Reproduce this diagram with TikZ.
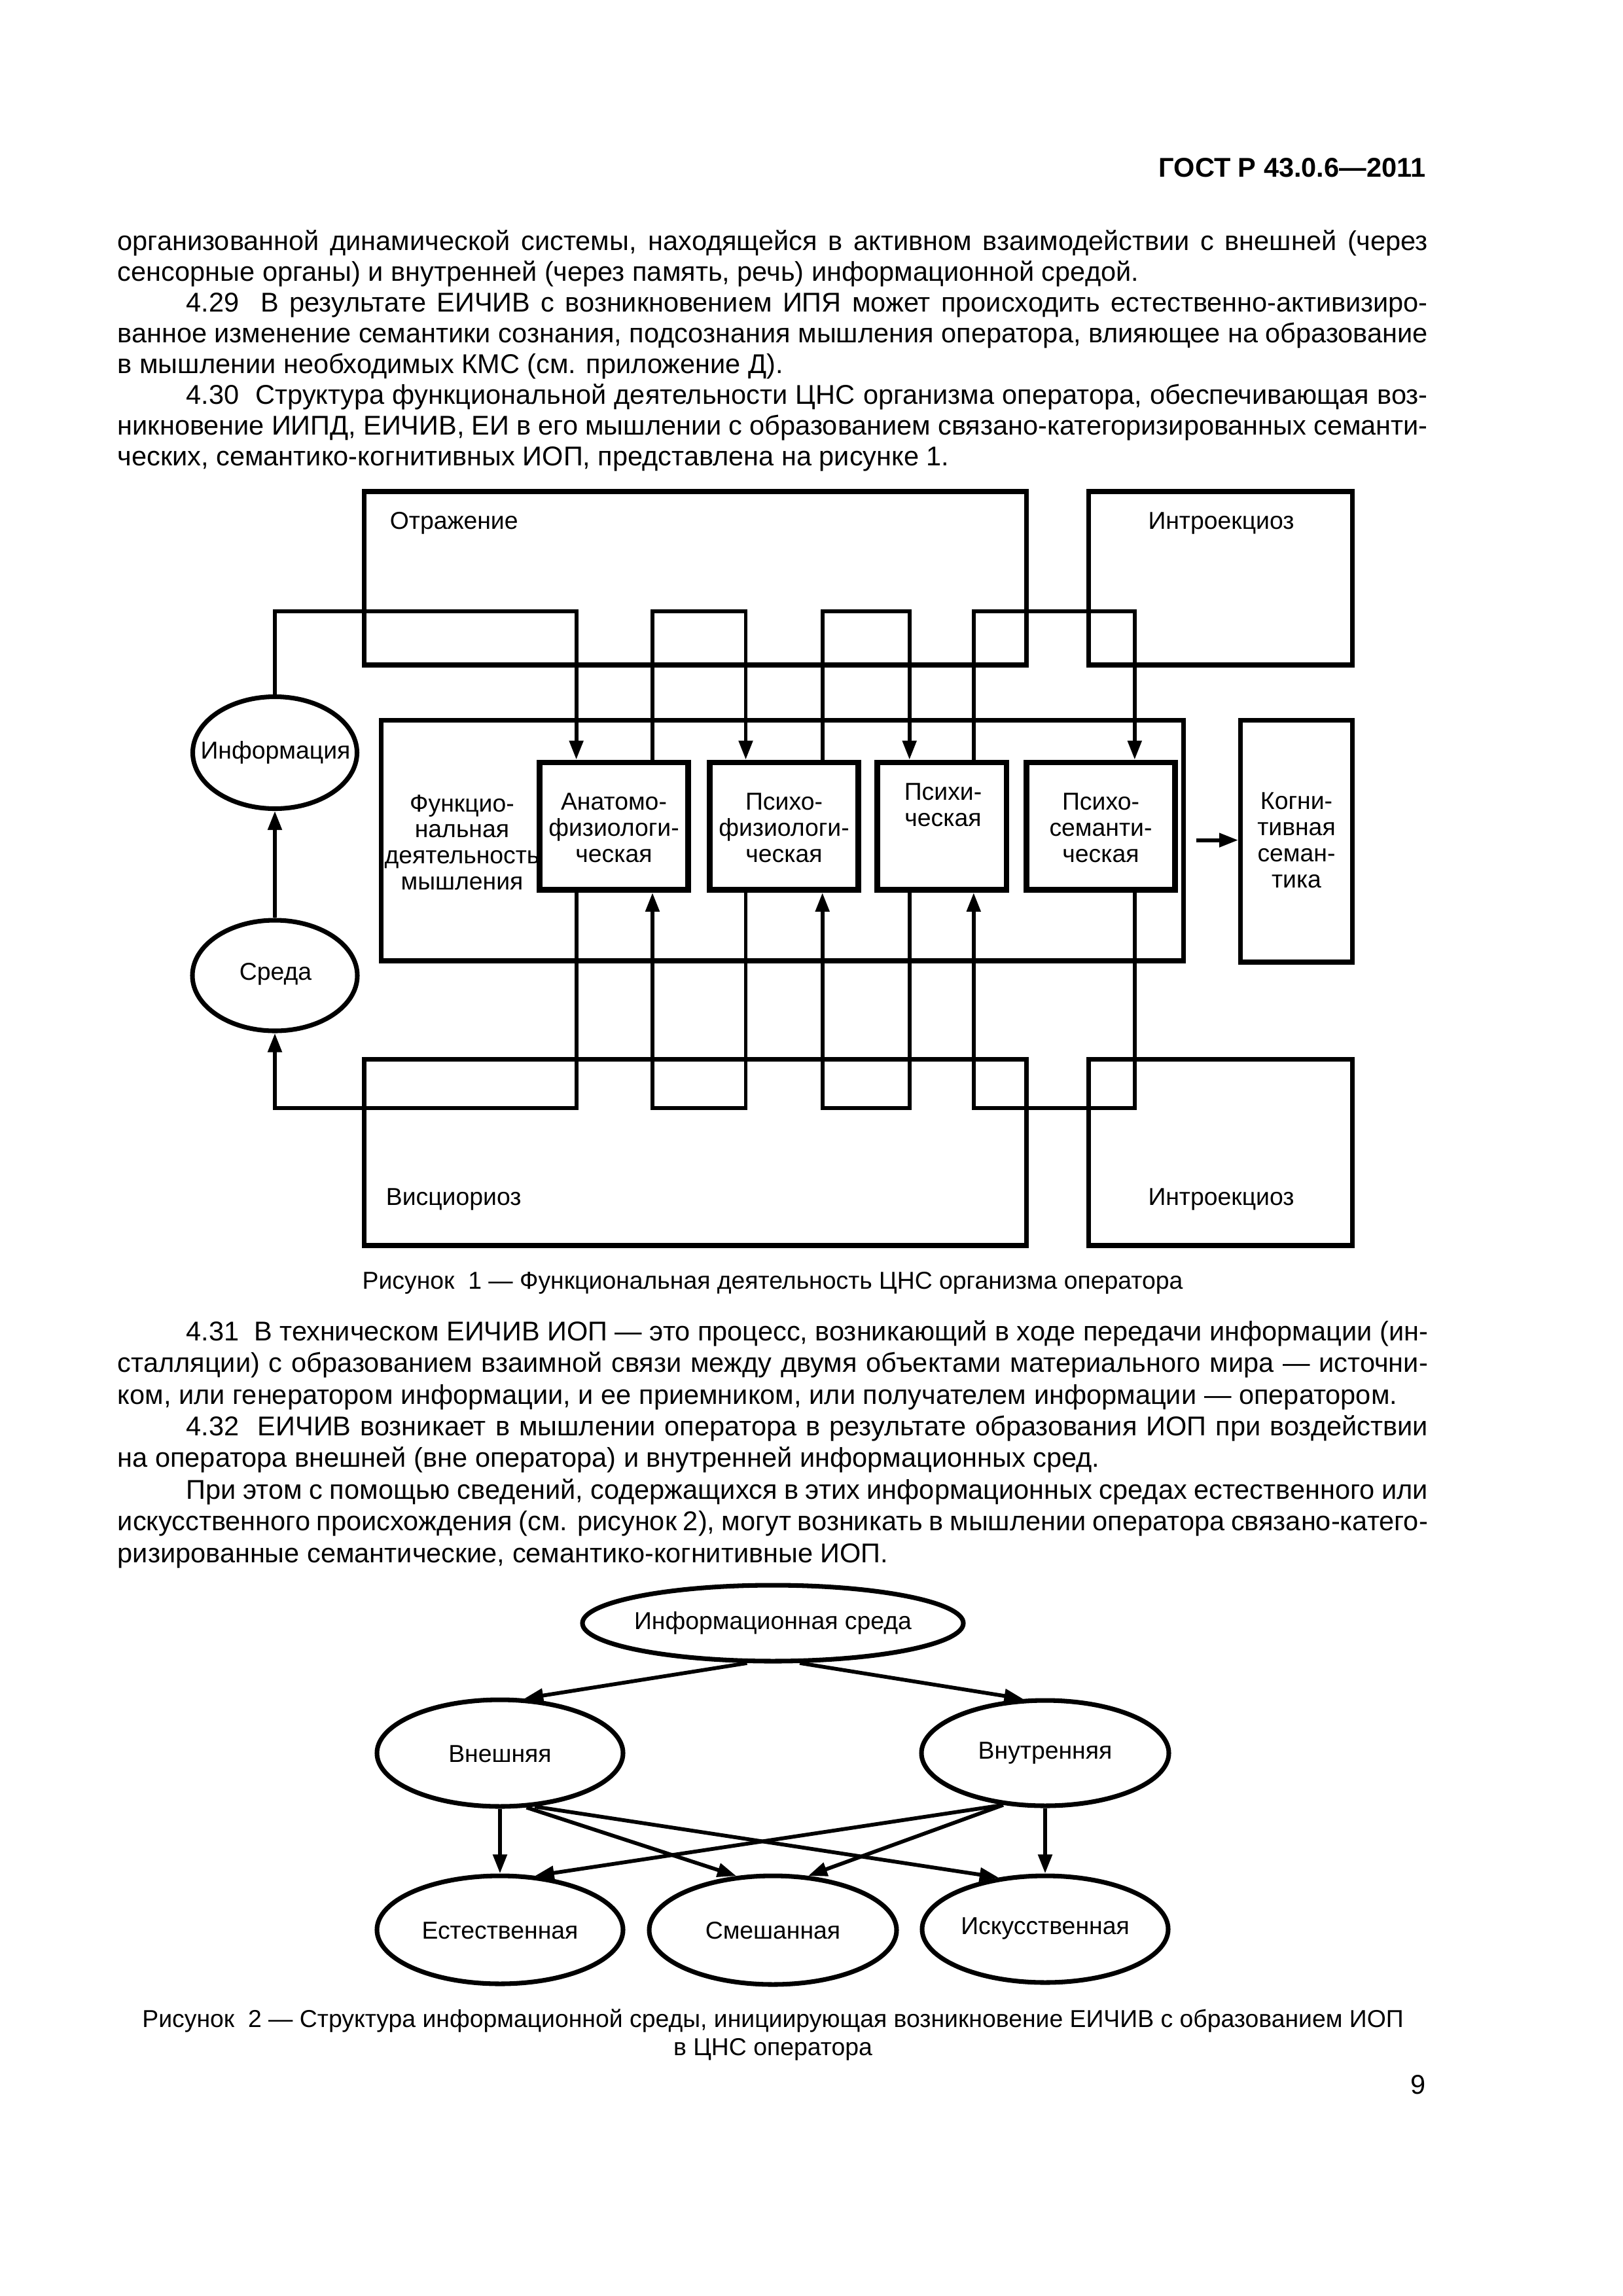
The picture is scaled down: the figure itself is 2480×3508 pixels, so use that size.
\documentclass[tikz,border=0pt]{standalone}
\usepackage{fontspec}
\setmainfont{Liberation Sans}
\usetikzlibrary{arrows.meta,shapes.geometric,fit,calc}
\newdimen\pxu \pxu=0.0846774mm
\begin{document}
\begin{tikzpicture}[x=0.0846774mm, y=-0.0846774mm,
  outerbox/.style={draw, line width=1.7pt, inner sep=0pt},
  innerbox/.style={draw, line width=2.1pt, inner sep=0pt},
  oval/.style={draw, ellipse, line width=1.7pt, inner sep=0pt},
  conn/.style={line width=1.4pt, line join=miter},
  arr/.style={conn, -{Triangle[length=7pt,width=5pt]}},
  lbl/.style={font=\fontsize{9}{9.6}\selectfont, align=center, inner sep=0pt},
  body/.style={font=\fontsize{10}{12}\selectfont, inner sep=0pt, anchor=base west},
  captext/.style={font=\fontsize{9}{11}\selectfont, inner sep=0pt, anchor=base}]
\useasboundingbox[fill=white] (0,0) rectangle (2480,3508);

% header
\node[font=\bfseries\fontsize{10}{12}\selectfont, inner sep=0pt, anchor=base east] (hdr) at (2179,270) {ГОСТ Р 43.0.6—2011};

% top text
\node[body] (p1) at (179,382) {\makebox[2002\pxu][s]{организованной динамической системы, находящейся в активном взаимодействии с внешней (через}};
\node[body] (p2) at (179,429) {сенсорные органы) и внутренней (через память, речь) информационной средой.};
\node[body] (p3) at (284,476) {\makebox[1897\pxu][s]{4.29\ \ В результате ЕИЧИВ с возникновением ИПЯ может происходить естественно-активизиро-}};
\node[body] (p4) at (179,523.5) {\makebox[2002\pxu][s]{ванное изменение семантики сознания, подсознания мышления оператора, влияющее на образование}};
\node[body] (p5) at (179,570.5) {в мышлении необходимых КМС (см. приложение Д).};
\node[body] (p6) at (284,617.5) {\makebox[1897\pxu][s]{4.30\ \ Структура функциональной деятельности ЦНС организма оператора, обеспечивающая воз-}};
\node[body] (p7) at (179,664.5) {\makebox[2002\pxu][s]{никновение ИИПД, ЕИЧИВ, ЕИ в его мышлении с образованием связано-категоризированных семанти-}};
\node[body] (p8) at (179,711.7) {ческих, семантико-когнитивных ИОП, представлена на рисунке 1.};

% ---------- Figure 1 ----------
\node[outerbox, fit={(556.6,751) (1568.4,1016)}] (refl) {};
\node[outerbox, fit={(1663.5,751) (2066.4,1016)}] (introT) {};
\node[outerbox, fit={(582.5,1100.5) (1808.9,1468)}] (func) {};
\node[outerbox, fit={(1895.6,1100.5) (2066.4,1470)}] (kog) {};
\node[outerbox, fit={(556.6,1618.3) (1568.4,1903)}] (visc) {};
\node[outerbox, fit={(1663.5,1618.3) (2066.4,1903)}] (introB) {};

\node[innerbox, fit={(824.5,1165) (1051.8,1359.5)}] (anat) {};
\node[innerbox, fit={(1084.8,1165) (1311.4,1359.5)}] (pf) {};
\node[innerbox, fit={(1340.8,1165) (1538,1359.5)}] (psy) {};
\node[innerbox, fit={(1568.4,1165) (1795.6,1359.5)}] (ps) {};

\node[oval, minimum width=251\pxu, minimum height=171\pxu] (info) at (420,1150) {};
\node[oval, minimum width=252\pxu, minimum height=169\pxu] (sreda) at (420,1490.5) {};

\node[lbl, anchor=base west] (reflT) at (595,808) {Отражение};
\node[lbl, anchor=base] (introTT) at (1866,808) {Интроекциоз};
\node[lbl, anchor=base west] (viscT) at (589,1841) {Висциориоз};
\node[lbl, anchor=base] (introBT) at (1866,1841) {Интроекциоз};
\node[lbl] (infoT) at (421,1150) {Информация};
\node[lbl] (sredaT) at (421,1488) {Среда};
\node[lbl] (funcT) at (706,1287) {Функцио-\\нальная\\деятельность\\мышления};
\node[lbl] (anatT) at (938,1265) {Анатомо-\\физиологи-\\ческая};
\node[lbl] (pfT) at (1198,1265) {Психо-\\физиологи-\\ческая};
\node[lbl] (psyT) at (1441,1230) {Психи-\\ческая};
\node[lbl] (psT) at (1682,1265) {Психо-\\семанти-\\ческая};
\node[lbl] (kogT) at (1981,1284) {Когни-\\тивная\\семан-\\тика};

\coordinate (t1) at (880.6,934);
\coordinate (t2) at (997,934);
\coordinate (t3) at (1139.5,934);
\coordinate (t4) at (1256.7,934);
\coordinate (t5) at (1389.7,934);
\coordinate (t6) at (1487.8,934);
\coordinate (t7) at (1733.8,934);
\coordinate (b1) at (880.6,1692.6);
\coordinate (b2) at (997,1692.6);
\coordinate (b3) at (1139.5,1692.6);
\coordinate (b4) at (1256.7,1692.6);
\coordinate (b5) at (1389.7,1692.6);
\coordinate (b6) at (1487.8,1692.6);
\coordinate (b7) at (1733.8,1692.6);
\coordinate (k0) at (1828,1283.6);

\draw[arr] (info.north) |- (t1) -- (t1 |- anat.north);
\draw[arr] (t2 |- anat.north) -- (t2) -- (t3) -- (t3 |- pf.north);
\draw[arr] (t4 |- pf.north) -- (t4) -- (t5) -- (t5 |- psy.north);
\draw[arr] (t6 |- psy.north) -- (t6) -- (t7) -- (t7 |- ps.north);
\draw[arr] (b1 |- anat.south) -- (b1) -| (sreda.south);
\draw[arr] (b3 |- pf.south) -- (b3) -- (b2) -- (b2 |- anat.south);
\draw[arr] (b5 |- psy.south) -- (b5) -- (b4) -- (b4 |- pf.south);
\draw[arr] (b7 |- ps.south) -- (b7) -- (b6) -- (b6 |- psy.south);
\draw[arr] (sreda.north) -- (info.south);
\draw[arr] (k0) -- (k0 -| kog.west);

\node[captext] (cap1) at (1180.5,1969) {Рисунок\ \ 1 — Функциональная деятельность ЦНС организма оператора};

% middle text
\node[body] (q1) at (284,2048) {\makebox[1897\pxu][s]{4.31\ \ В техническом ЕИЧИВ ИОП — это процесс, возникающий в ходе передачи информации (ин-}};
\node[body] (q2) at (179,2096) {\makebox[2002\pxu][s]{сталляции) с образованием взаимной связи между двумя объектами материального мира — источни-}};
\node[body] (q3) at (179,2145) {\makebox[1955\pxu][s]{ком, или генератором информации, и ее приемником, или получателем информации — оператором.}};
\node[body] (q4) at (284,2193) {\makebox[1897\pxu][s]{4.32\ \ ЕИЧИВ возникает в мышлении оператора в результате образования ИОП при воздействии}};
\node[body] (q5) at (179,2241) {на оператора внешней (вне оператора) и внутренней информационных сред.};
\node[body] (q6) at (284,2290) {\makebox[1897\pxu][s]{При этом с помощью сведений, содержащихся в этих информационных средах естественного или}};
\node[body] (q7) at (179,2338) {\makebox[2002\pxu][s]{искусственного происхождения (см. рисунок 2), могут возникать в мышлении оператора связано-катего-}};
\node[body] (q8) at (179,2387) {ризированные семантические, семантико-когнитивные ИОП.};

% ---------- Figure 2 ----------
\node[oval, minimum width=582\pxu, minimum height=116\pxu] (media) at (1181,2480) {};
\node[oval, minimum width=376\pxu, minimum height=163\pxu] (ext) at (764,2678.5) {};
\node[oval, minimum width=378\pxu, minimum height=161\pxu] (int) at (1597,2678.5) {};
\node[oval, minimum width=376\pxu, minimum height=165\pxu] (nat) at (764,2948.5) {};
\node[oval, minimum width=378\pxu, minimum height=166\pxu] (mix) at (1181,2949) {};
\node[oval, minimum width=376\pxu, minimum height=163\pxu] (art) at (1597,2947.5) {};

\node[lbl] (mediaT) at (1181,2480) {Информационная среда};
\node[lbl] (extT) at (764,2680) {Внешняя};
\node[lbl] (intT) at (1597,2678) {Внутренняя};
\node[lbl] (natT) at (764,2950) {Естественная};
\node[lbl] (mixT) at (1181,2950) {Смешанная};
\node[lbl] (artT) at (1597,2946) {Искусственная};

\draw[arr] (media.237) -- (ext.66);
\draw[arr] (media.304) -- (int.112);
\draw[arr] (ext.south) -- (nat.north);
\draw[arr] (ext.296) -- (mix.124);
\draw[arr] (ext.303) -- (art.132);
\draw[arr] (int.231) -- (nat.57);
\draw[arr] (int.231) -- (mix.57);
\draw[arr] (int.south) -- (art.north);

\node[captext] (cap2a) at (1181,3097) {Рисунок\ \ 2 — Структура информационной среды, инициирующая возникновение ЕИЧИВ с образованием ИОП};
\node[captext] (cap2b) at (1181,3140) {в ЦНС оператора};

\node[font=\fontsize{10}{12}\selectfont, inner sep=0pt, anchor=base east] (pgno) at (2179,3199) {9};
\end{tikzpicture}
\end{document}
